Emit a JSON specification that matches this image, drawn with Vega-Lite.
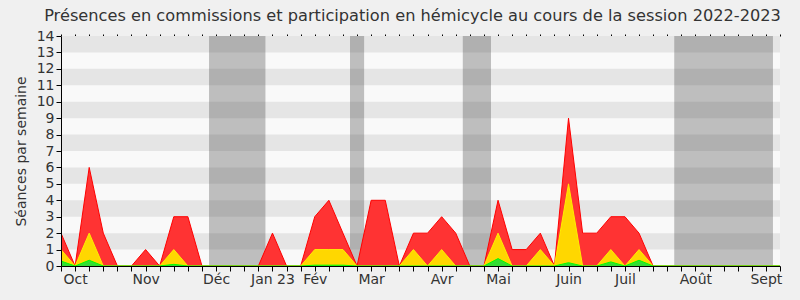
{
  "$schema": "https://vega.github.io/schema/vega-lite/v6.json",
  "width": 719,
  "height": 230,
  "autosize": "none",
  "padding": {"left": 61, "top": 36, "right": 20, "bottom": 34},
  "background": "#f0f0f0",
  "config": {"view": {"fill": "#f9f9f9", "stroke": null}, "font": "DejaVu Sans"},
  "title": {"text": "Présences en commissions et participation en hémicycle au cours de la session 2022-2023", "fontSize": 16.2, "font": "DejaVu Sans", "fontWeight": "normal", "color": "#333333", "anchor": "middle", "dx": -8, "offset": 5},
  "resolve": {"axis": {"x": "independent", "y": "independent"}},
  "datasets": {
    "bandes": [
      {"bas": 1, "haut": 2}, {"bas": 3, "haut": 4}, {"bas": 5, "haut": 6}, {"bas": 7, "haut": 8},
      {"bas": 9, "haut": 10}, {"bas": 11, "haut": 12}, {"bas": 13, "haut": 14}
    ],
    "vacances": [
      {"debut": 10.5, "fin": 14.5}, {"debut": 20.5, "fin": 21.5}, {"debut": 28.5, "fin": 30.5}, {"debut": 43.5, "fin": 50.5}
    ],
    "semaines": [
      {"semaine": 0, "total": 2, "jaune": 1, "vert": 0.3},
      {"semaine": 1, "total": 0, "jaune": 0, "vert": 0},
      {"semaine": 2, "total": 6, "jaune": 2, "vert": 0.35},
      {"semaine": 3, "total": 2, "jaune": 0, "vert": 0},
      {"semaine": 4, "total": 0, "jaune": 0, "vert": 0},
      {"semaine": 5, "total": 0, "jaune": 0, "vert": 0},
      {"semaine": 6, "total": 1, "jaune": 0, "vert": 0},
      {"semaine": 7, "total": 0, "jaune": 0, "vert": 0},
      {"semaine": 8, "total": 3, "jaune": 1, "vert": 0.1},
      {"semaine": 9, "total": 3, "jaune": 0, "vert": 0},
      {"semaine": 10, "total": 0, "jaune": 0, "vert": 0},
      {"semaine": 11, "total": 0, "jaune": 0, "vert": 0},
      {"semaine": 12, "total": 0, "jaune": 0, "vert": 0},
      {"semaine": 13, "total": 0, "jaune": 0, "vert": 0},
      {"semaine": 14, "total": 0, "jaune": 0, "vert": 0},
      {"semaine": 15, "total": 2, "jaune": 0, "vert": 0},
      {"semaine": 16, "total": 0, "jaune": 0, "vert": 0},
      {"semaine": 17, "total": 0, "jaune": 0, "vert": 0},
      {"semaine": 18, "total": 3, "jaune": 1, "vert": 0.05},
      {"semaine": 19, "total": 4, "jaune": 1, "vert": 0.05},
      {"semaine": 20, "total": 2, "jaune": 1, "vert": 0.05},
      {"semaine": 21, "total": 0, "jaune": 0, "vert": 0},
      {"semaine": 22, "total": 4, "jaune": 0, "vert": 0},
      {"semaine": 23, "total": 4, "jaune": 0, "vert": 0},
      {"semaine": 24, "total": 0, "jaune": 0, "vert": 0},
      {"semaine": 25, "total": 2, "jaune": 1, "vert": 0},
      {"semaine": 26, "total": 2, "jaune": 0, "vert": 0},
      {"semaine": 27, "total": 3, "jaune": 1, "vert": 0},
      {"semaine": 28, "total": 2, "jaune": 0, "vert": 0},
      {"semaine": 29, "total": 0, "jaune": 0, "vert": 0},
      {"semaine": 30, "total": 0, "jaune": 0, "vert": 0},
      {"semaine": 31, "total": 4, "jaune": 2, "vert": 0.45},
      {"semaine": 32, "total": 1, "jaune": 0, "vert": 0},
      {"semaine": 33, "total": 1, "jaune": 0, "vert": 0},
      {"semaine": 34, "total": 2, "jaune": 1, "vert": 0},
      {"semaine": 35, "total": 0, "jaune": 0, "vert": 0},
      {"semaine": 36, "total": 9, "jaune": 5, "vert": 0.2},
      {"semaine": 37, "total": 2, "jaune": 0, "vert": 0},
      {"semaine": 38, "total": 2, "jaune": 0, "vert": 0},
      {"semaine": 39, "total": 3, "jaune": 1, "vert": 0.25},
      {"semaine": 40, "total": 3, "jaune": 0, "vert": 0},
      {"semaine": 41, "total": 2, "jaune": 1, "vert": 0.35},
      {"semaine": 42, "total": 0, "jaune": 0, "vert": 0},
      {"semaine": 43, "total": 0, "jaune": 0, "vert": 0},
      {"semaine": 44, "total": 0, "jaune": 0, "vert": 0},
      {"semaine": 45, "total": 0, "jaune": 0, "vert": 0},
      {"semaine": 46, "total": 0, "jaune": 0, "vert": 0},
      {"semaine": 47, "total": 0, "jaune": 0, "vert": 0},
      {"semaine": 48, "total": 0, "jaune": 0, "vert": 0},
      {"semaine": 49, "total": 0, "jaune": 0, "vert": 0},
      {"semaine": 50, "total": 0, "jaune": 0, "vert": 0},
      {"semaine": 51, "total": 0, "jaune": 0, "vert": 0}
    ]
  },
  "layer": [
    {
      "data": {"name": "bandes"},
      "mark": {"type": "rect", "color": "#e5e5e5"},
      "encoding": {
        "y": {"field": "bas", "type": "quantitative", "scale": {"domain": [0, 14], "nice": false, "zero": true},
          "axis": {"orient": "left", "values": [0,1,2,3,4,5,6,7,8,9,10,11,12,13,14], "grid": false, "domainColor": "#000000", "tickColor": "#000000", "tickSize": 5, "labelFontSize": 14, "labelColor": "#333333", "labelPadding": 2, "title": "Séances par semaine", "titleFontSize": 14, "titleFontWeight": "normal", "titleColor": "#333333", "titlePadding": 8, "labelOverlap": false, "zindex": 1}},
        "y2": {"field": "haut"}
      }
    },
    {
      "data": {"name": "vacances"},
      "mark": {"type": "rect", "color": "#464646", "opacity": 0.33},
      "encoding": {
        "x": {"field": "debut", "type": "quantitative", "scale": {"domain": [0, 51], "nice": false, "zero": false},
          "axis": {"orient": "top", "values": [0,1,2,3,4,5,6,7,8,9,10,11,12,13,14,15,16,17,18,19,20,21,22,23,24,25,26,27,28,29,30,31,32,33,34,35,36,37,38,39,40,41,42,43,44,45,46,47,48,49,50,51], "labels": false, "domain": false, "tickSize": 2, "tickColor": "#000000", "title": null, "grid": false}},
        "x2": {"field": "fin"}
      }
    },
    {
      "data": {"name": "semaines"},
      "mark": {"type": "area", "color": "#ff3333", "opacity": 1, "line": {"color": "#ff0000", "strokeWidth": 1}},
      "encoding": {
        "x": {"field": "semaine", "type": "quantitative",
          "axis": {"orient": "bottom", "values": [0,1,2,3,4,5,6,7,8,9,10,11,12,13,14,15,16,17,18,19,20,21,22,23,24,25,26,27,28,29,30,31,32,33,34,35,36,37,38,39,40,41,42,43,44,45,46,47,48,49,50,51],
            "labelExpr": "datum.value == 1 ? 'Oct' : datum.value == 6 ? 'Nov' : datum.value == 11 ? 'Déc' : datum.value == 15 ? 'Jan 23' : datum.value == 18 ? 'Fév' : datum.value == 22 ? 'Mar' : datum.value == 27 ? 'Avr' : datum.value == 31 ? 'Mai' : datum.value == 36 ? 'Juin' : datum.value == 40 ? 'Juil' : datum.value == 45 ? 'Août' : datum.value == 50 ? 'Sept' : ''",
            "labelOverlap": false, "labelFlush": false, "labelBound": false, "tickSize": 5, "domainColor": "#000000", "tickColor": "#000000", "labelFontSize": 14, "labelColor": "#333333", "labelPadding": 1, "title": null, "grid": false, "zindex": 1}},
        "y": {"field": "total", "type": "quantitative", "axis": null}
      }
    },
    {
      "data": {"name": "semaines"},
      "mark": {"type": "area", "color": "#ffd700", "opacity": 1, "line": {"color": "#ffee00", "strokeWidth": 1}},
      "encoding": {
        "x": {"field": "semaine", "type": "quantitative", "axis": null},
        "y": {"field": "jaune", "type": "quantitative", "axis": null}
      }
    },
    {
      "data": {"name": "semaines"},
      "mark": {"type": "area", "color": "#33dd33", "opacity": 1, "line": {"color": "#00ff00", "strokeWidth": 1}},
      "encoding": {
        "x": {"field": "semaine", "type": "quantitative", "axis": null},
        "y": {"field": "vert", "type": "quantitative", "axis": null}
      }
    }
  ]
}
